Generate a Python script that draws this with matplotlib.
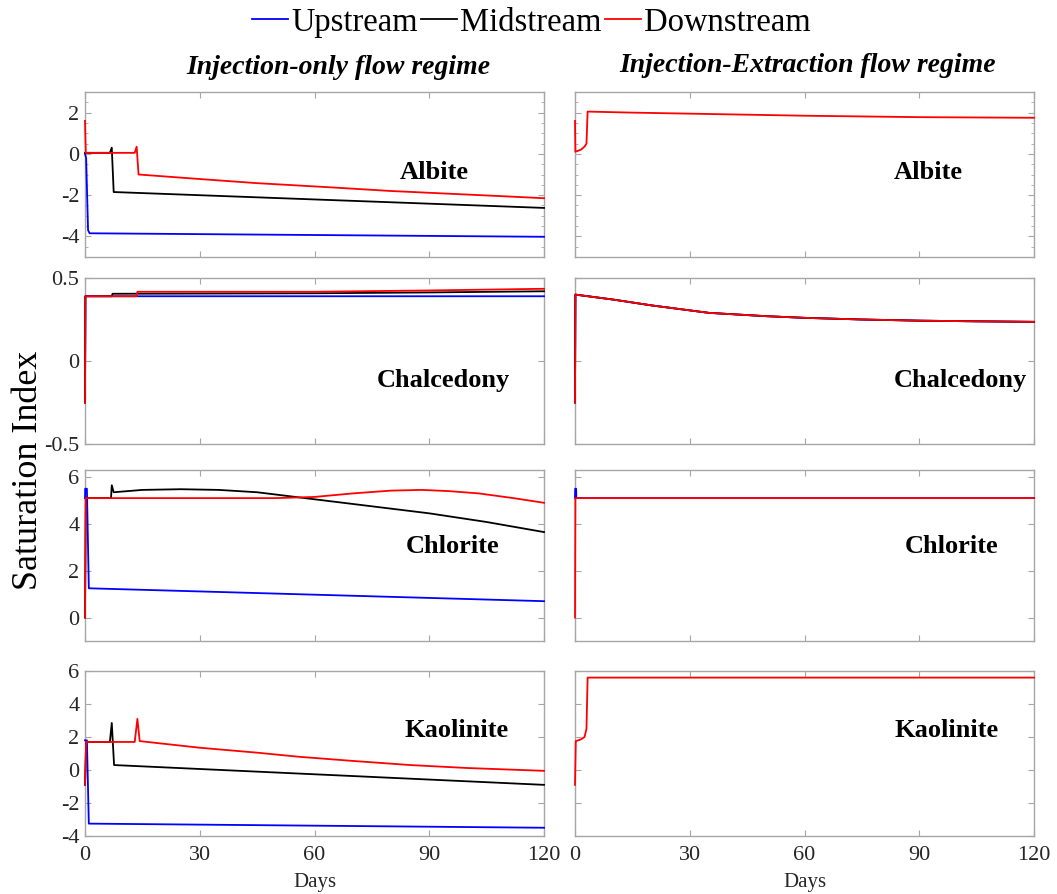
import matplotlib
matplotlib.use("Agg")
import matplotlib.pyplot as plt
from matplotlib.ticker import AutoMinorLocator

plt.rcParams['font.family'] = ['Liberation Serif', 'DejaVu Serif']

# ---- data: (days, saturation index) ----
# Albite, injection-only
alb_up_t = [0, 0.3, 0.8, 1.2, 120]
alb_up_y = [0.0, -0.2, -3.7, -3.85, -4.02]
alb_mid_t = [0, 6.5, 7.0, 7.5, 120]
alb_mid_y = [0.05, 0.05, 0.3, -1.85, -2.62]
alb_down_t = [0, 0.2, 13.0, 13.5, 14.0, 30, 45, 64, 80, 95, 110, 120]
alb_down_y = [1.6, 0.05, 0.05, 0.35, -1.0, -1.22, -1.42, -1.62, -1.8, -1.93, -2.06, -2.15]
# Albite, injection-extraction (all three sites coincide)
alb_ie_t = [0, 0.1, 1.5, 2.5, 3.0, 3.3, 15, 30, 60, 90, 120]
alb_ie_y = [1.6, 0.1, 0.2, 0.35, 0.5, 2.05, 2.0, 1.95, 1.85, 1.78, 1.75]

# Chalcedony, injection-only
cha_up_t = [0, 0.1, 120]
cha_up_y = [-0.25, 0.39, 0.39]
cha_mid_t = [0, 0.1, 7.0, 7.2, 60, 90, 120]
cha_mid_y = [-0.25, 0.39, 0.39, 0.405, 0.408, 0.413, 0.42]
cha_down_t = [0, 0.1, 13.5, 13.7, 60, 90, 120]
cha_down_y = [-0.25, 0.39, 0.39, 0.417, 0.417, 0.425, 0.435]
# Chalcedony, injection-extraction
cha_ie_t = [0, 0.1, 10, 20, 35, 50, 60, 75, 90, 105, 120]
cha_ie_y = [-0.25, 0.40, 0.37, 0.335, 0.29, 0.27, 0.26, 0.25, 0.243, 0.239, 0.236]

# Chlorite, injection-only
chl_up_t = [0, 0.05, 0.5, 1.0, 120]
chl_up_y = [5.1, 5.5, 5.5, 1.25, 0.7]
chl_mid_t = [0, 0.2, 6.8, 7.0, 7.5, 15, 25, 35, 45, 55, 65, 75, 90, 105, 120]
chl_mid_y = [0.0, 5.1, 5.1, 5.65, 5.35, 5.45, 5.48, 5.45, 5.35, 5.15, 4.95, 4.75, 4.45, 4.08, 3.65]
chl_down_t = [0, 0.2, 13, 50, 60, 70, 80, 88, 95, 103, 112, 120]
chl_down_y = [0.0, 5.1, 5.1, 5.1, 5.15, 5.3, 5.42, 5.45, 5.4, 5.3, 5.1, 4.9]
# Chlorite, injection-extraction
chl_ie_up_t = [0, 0.05, 0.3, 0.35, 120]
chl_ie_up_y = [5.1, 5.5, 5.5, 5.1, 5.1]
chl_ie_t = [0, 0.1, 120]
chl_ie_y = [0.0, 5.1, 5.1]

# Kaolinite, injection-only
kao_up_t = [0, 0.5, 1.0, 120]
kao_up_y = [1.8, 1.8, -3.25, -3.5]
kao_mid_t = [0, 0.3, 6.5, 7.0, 7.6, 120]
kao_mid_y = [-0.9, 1.7, 1.7, 2.85, 0.3, -0.9]
kao_down_t = [0, 0.3, 13.0, 13.7, 14.3, 30, 45, 56, 70, 85, 100, 120]
kao_down_y = [-0.9, 1.7, 1.7, 3.1, 1.75, 1.35, 1.05, 0.8, 0.55, 0.3, 0.12, -0.05]
# Kaolinite, injection-extraction
kao_ie_t = [0, 0.2, 1.5, 2.5, 3.0, 3.3, 120]
kao_ie_y = [-0.9, 1.75, 1.85, 2.0, 2.5, 5.6, 5.6]

minerals = ["Albite", "Chalcedony", "Chlorite", "Kaolinite"]
ylims = [(-5, 3), (-0.5, 0.5), (-1, 6.3), (-4, 6)]
yticks = [[-4, -2, 0, 2], [-0.5, 0, 0.5], [0, 2, 4, 6], [-4, -2, 0, 2, 4, 6]]
ytick_labels = [["-4", "-2", "0", "2"], ["-0.5", "0", "0.5"],
                ["0", "2", "4", "6"], ["-4", "-2", "0", "2", "4", "6"]]
xticks = [0, 30, 60, 90, 120]

left_series = [
    [(alb_up_t, alb_up_y), (alb_mid_t, alb_mid_y), (alb_down_t, alb_down_y)],
    [(cha_up_t, cha_up_y), (cha_mid_t, cha_mid_y), (cha_down_t, cha_down_y)],
    [(chl_up_t, chl_up_y), (chl_mid_t, chl_mid_y), (chl_down_t, chl_down_y)],
    [(kao_up_t, kao_up_y), (kao_mid_t, kao_mid_y), (kao_down_t, kao_down_y)],
]
# in the injection-extraction runs the curves lie on top of each other;
# None = hidden completely under the red curve
right_series = [
    [None, None, (alb_ie_t, alb_ie_y)],
    [(cha_ie_t, cha_ie_y), (cha_ie_t, cha_ie_y), (cha_ie_t, cha_ie_y)],
    [(chl_ie_up_t, chl_ie_up_y), None, (chl_ie_t, chl_ie_y)],
    [None, None, (kao_ie_t, kao_ie_y)],
]

colors = ["#0000FF", "#000000", "#FF0000"]
names = ["Upstream", "Midstream", "Downstream"]

# label positions in axes fraction (x, y)
left_lbl = [(0.76, 0.515), (0.78, 0.38), (0.80, 0.555), (0.81, 0.64)]
right_lbl = [(0.77, 0.515), (0.84, 0.38), (0.82, 0.555), (0.81, 0.64)]

W, H = 1057, 894
fig = plt.figure(figsize=(W / 100, H / 100), dpi=100)

rows_px = [(92, 257), (278, 444), (470, 641), (671, 836)]
cols_px = [(85, 544), (575, 1034)]

spine_col = "#A6A6A6"
handles = []
for r, (top, bot) in enumerate(rows_px):
    for c, (x0, x1) in enumerate(cols_px):
        ax = fig.add_axes([x0 / W, 1 - bot / H, (x1 - x0) / W, (bot - top) / H])
        series = left_series[r] if c == 0 else right_series[r]
        for s_, col, nm in zip(series, colors, names):
            if s_ is None:
                continue
            t, y = s_
            ln, = ax.plot(t, y, color=col, lw=1.3, label=nm, zorder=3, clip_on=False)
            if r == 0 and c == 0:
                handles.append(ln)
        ax.set_xlim(0, 120)
        ax.set_ylim(*ylims[r])
        ax.set_xticks(xticks)
        ax.set_yticks(yticks[r])
        if c == 0:
            ax.set_yticklabels(ytick_labels[r])
        else:
            ax.set_yticklabels([])
        if r == 3:
            ax.set_xticklabels([str(v) for v in xticks])
            ax.set_xlabel("Days", fontsize=15, labelpad=6, color="#262626")
        else:
            ax.set_xticklabels([])
        if r == 0:
            ax.yaxis.set_minor_locator(AutoMinorLocator(4))
        ax.tick_params(direction="in", top=True, right=True, color=spine_col,
                       labelsize=16, labelcolor="#262626", length=4.5, pad=4)
        ax.tick_params(axis="x", pad=7)
        ax.tick_params(which="minor", direction="in", right=True, color=spine_col, length=2.5)
        for s in ax.spines.values():
            s.set_color(spine_col)
            s.set_linewidth(1.0)
        lx, ly = left_lbl[r] if c == 0 else right_lbl[r]
        ax.text(lx, ly, minerals[r], transform=ax.transAxes, ha="center", va="center",
                fontsize=19, fontweight="bold")

fig.text(338 / W, 1 - 68 / H, "Injection-only flow regime", ha="center", va="center",
         fontsize=20, fontweight="bold", fontstyle="italic")
fig.text(808 / W, 1 - 66 / H, "Injection-Extraction flow regime", ha="center", va="center",
         fontsize=20, fontweight="bold", fontstyle="italic")
fig.text(29 / W, 1 - 470 / H, "Saturation Index", rotation=90, ha="center", va="center",
         fontsize=26)
fig.legend(handles=handles, labels=names, loc="upper center", bbox_to_anchor=(0.503, 1.025),
           ncol=3, frameon=False, fontsize=23.5, handlelength=1.1, handletextpad=0.1,
           columnspacing=0.1)

fig.savefig("out.png", dpi=100)
